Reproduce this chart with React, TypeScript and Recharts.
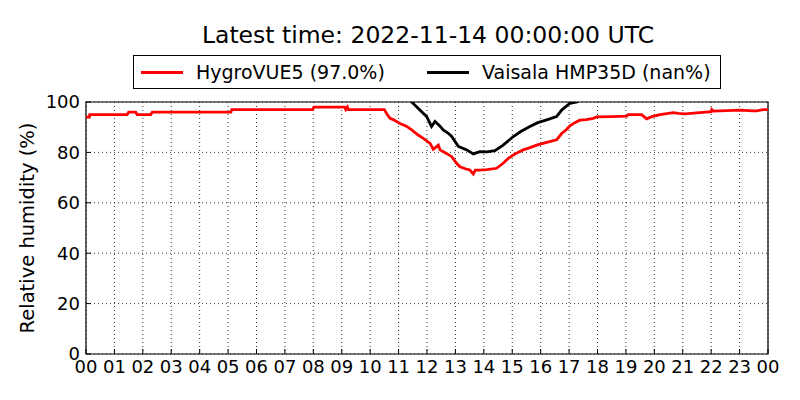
import { CartesianGrid, Label, Line, LineChart, ReferenceArea, XAxis, YAxis } from 'recharts';

// HygroVUE5 relative humidity, hours since 00 UTC
const hygroHours = [
  0, 0.12, 0.13, 1.45, 1.5, 1.75, 1.8, 2.28, 2.33, 5.1, 5.13, 7.98, 8.02, 9.1, 9.14, 9.2, 9.23, 9.28,
  10.5, 10.6, 10.7, 10.81, 11.05, 11.29, 11.46, 11.69, 11.87, 12.11, 12.22, 12.4, 12.46, 12.7, 12.87,
  13.04, 13.16, 13.35, 13.51, 13.63, 13.7, 13.86, 14.1, 14.45, 14.68, 14.85, 15.04, 15.2, 15.39, 15.6,
  15.86, 16.05, 16.21, 16.56, 16.74, 16.9, 17.03, 17.2, 17.38, 17.6, 17.85, 17.97, 18.5, 19.03, 19.08,
  19.55, 19.73, 19.91, 20.2, 20.67, 20.85, 21.08, 21.6, 22.0, 22.02, 22.08, 23.01, 23.48, 23.6, 23.83, 24,
];
const hygroValues = [
  94, 94, 95, 95, 96, 96, 95, 95, 96, 96, 97, 97, 98, 98, 97, 98, 97, 97,
  97, 95, 93.5, 93, 91.5, 90.3, 88.9, 86.9, 85.6, 83.6, 81.2, 82.9, 81, 79.5, 78.3,
  75.7, 74.3, 73.5, 73, 71.4, 73, 73, 73.2, 73.7, 75.7, 77.5, 79, 80, 81, 81.8,
  82.9, 83.5, 84, 85, 87.5, 89, 90.5, 91.8, 92.8, 93, 93.5, 94.1, 94.2, 94.4, 95,
  95, 93.3, 94.2, 95, 95.8, 95.5, 95.3, 95.8, 96.2, 97, 96.4, 96.8, 96.5, 96.5, 97, 97,
];

// Vaisala HMP35D relative humidity (goes off the top of the axis outside ~11:30-17:15)
const vaisalaHours = [
  11.3, 11.46, 11.75, 11.99, 12.16, 12.28, 12.45, 12.57, 12.75, 12.87, 13.1, 13.4, 13.63, 13.86,
  14.1, 14.39, 14.68, 15.04, 15.3, 15.62, 15.9, 16.21, 16.56, 16.74, 17.03, 17.27, 17.45,
];
const vaisalaValues = [
  104, 100, 96.8, 94.2, 90.3, 92.3, 90.5, 88.9, 87.6, 86.3, 82.4, 81, 79.4, 80.3,
  80.2, 80.7, 82.9, 86.3, 88.3, 90.3, 91.8, 92.9, 94.2, 96.8, 99.5, 100, 103,
];

const hourTicks = [0, 1, 2, 3, 4, 5, 6, 7, 8, 9, 10, 11, 12, 13, 14, 15, 16, 17, 18, 19, 20, 21, 22, 23, 24];
const rhTicks = [0, 20, 40, 60, 80, 100];

const TITLE = 'Latest time: 2022-11-14 00:00:00 UTC';
const HYGRO_NAME = 'HygroVUE5 (97.0%)';
const VAISALA_NAME = 'Vaisala HMP35D (nan%)';

const FONT = '"DejaVu Sans", sans-serif';

const hygroData = hygroHours.map((t, i) => ({ t, rh: hygroValues[i] }));
const vaisalaData = vaisalaHours.map((t, i) => ({ t, rh: vaisalaValues[i] }));

function fmtHour(h: number): string {
  return String(h % 24).padStart(2, '0');
}

const blank = () => '';

function LegendBox() {
  const items = [
    { name: HYGRO_NAME, color: '#ff0000', left: 7 },
    { name: VAISALA_NAME, color: '#000000', left: 293 },
  ];
  return (
    <div
      style={{
        position: 'absolute',
        top: 55,
        left: 133,
        width: 588,
        height: 34,
        border: '1px solid #000',
        fontFamily: FONT,
        fontSize: 19,
        color: '#000',
        background: '#fff',
        boxSizing: 'border-box',
      }}
    >
      {items.map((it) => (
        <div
          key={it.name}
          style={{ position: 'absolute', left: it.left, top: 0, height: 32, display: 'flex', alignItems: 'center' }}
        >
          <span style={{ display: 'inline-block', width: 42, height: 0, borderTop: `3px solid ${it.color}` }} />
          <span style={{ marginLeft: 13, whiteSpace: 'nowrap' }}>{it.name}</span>
        </div>
      ))}
    </div>
  );
}

export default function App() {
  return (
    <div style={{ position: 'absolute', left: 0, top: 0, width: 800, height: 400, background: '#fff' }}>
      <div
        style={{
          position: 'absolute',
          top: 20,
          left: 0,
          width: 856,
          textAlign: 'center',
          fontFamily: FONT,
          fontSize: 23.5,
          color: '#000',
          lineHeight: '30px',
        }}
      >
        {TITLE}
      </div>
      <LineChart width={800} height={400} margin={{ top: 102, right: 32, left: 46, bottom: 16 }}>
        <CartesianGrid stroke="#000" strokeDasharray="1 3" strokeWidth={0.8} />
        <XAxis
          type="number"
          dataKey="t"
          domain={[0, 24]}
          ticks={hourTicks}
          tickFormatter={fmtHour}
          allowDataOverflow
          interval={0}
          height={30}
          axisLine={false}
          tickLine={{ stroke: '#000', strokeWidth: 1 }}
          tickSize={-5}
          tickMargin={11}
          tick={{ fontSize: 18, fill: '#000', fontFamily: FONT }}
        />
        <XAxis
          xAxisId="top"
          orientation="top"
          type="number"
          domain={[0, 24]}
          ticks={hourTicks}
          tickFormatter={blank}
          interval={0}
          height={0}
          axisLine={false}
          tickLine={{ stroke: '#000', strokeWidth: 1 }}
          tickSize={-5}
        />
        <YAxis
          type="number"
          domain={[0, 100]}
          ticks={rhTicks}
          allowDataOverflow
          width={40}
          axisLine={false}
          tickLine={{ stroke: '#000', strokeWidth: 1 }}
          tickSize={-5}
          tickMargin={11}
          tick={{ fontSize: 18, fill: '#000', fontFamily: FONT }}
        >
          <Label
            value="Relative humidity (%)"
            angle={-90}
            position="insideLeft"
            offset={-19}
            style={{ fontSize: 19.5, fill: '#000', fontFamily: FONT, textAnchor: 'middle' }}
          />
        </YAxis>
        <YAxis
          yAxisId="right"
          orientation="right"
          type="number"
          domain={[0, 100]}
          ticks={rhTicks}
          tickFormatter={blank}
          width={0}
          axisLine={false}
          tickLine={{ stroke: '#000', strokeWidth: 1 }}
          tickSize={-5}
        />
        <Line
          data={hygroData}
          dataKey="rh"
          name={HYGRO_NAME}
          type="linear"
          stroke="#ff0000"
          strokeWidth={2.8}
          dot={false}
          isAnimationActive={false}
        />
        <Line
          data={vaisalaData}
          dataKey="rh"
          name={VAISALA_NAME}
          type="linear"
          stroke="#000000"
          strokeWidth={2.8}
          dot={false}
          isAnimationActive={false}
        />
        <ReferenceArea x1={0} x2={24} y1={0} y2={100} fill="none" stroke="#000" strokeWidth={1.2} />
      </LineChart>
      <LegendBox />
    </div>
  );
}
